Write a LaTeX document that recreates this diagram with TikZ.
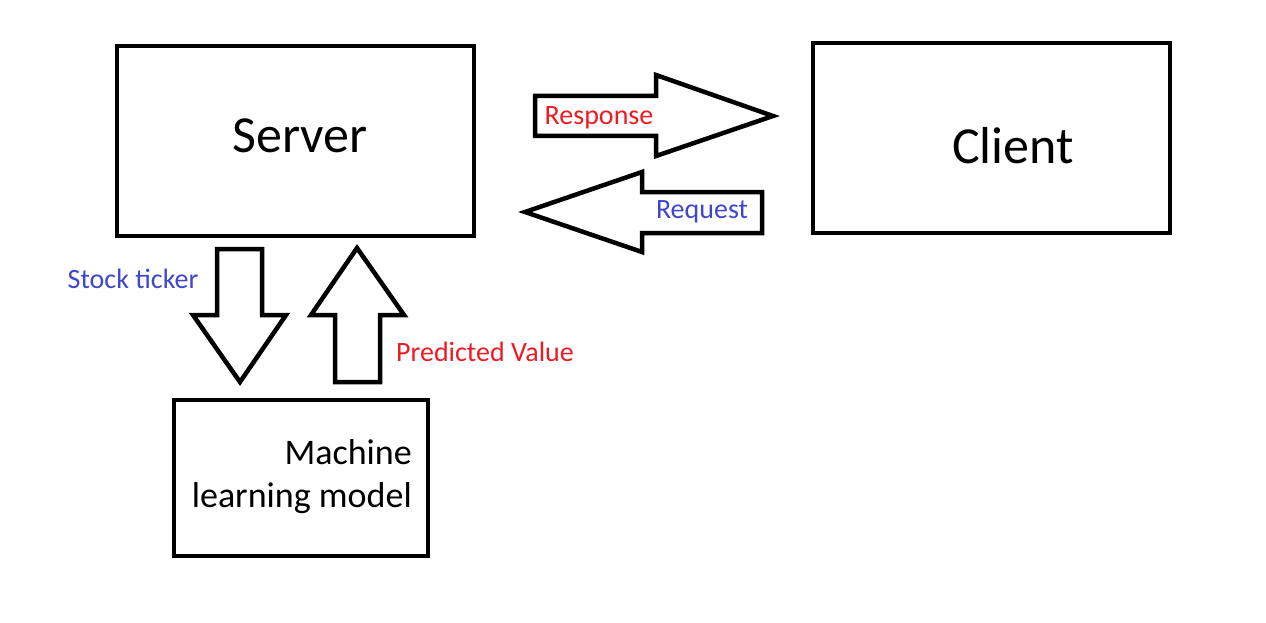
\documentclass[tikz,border=0pt]{standalone}
\usepackage{fontspec}
\setmainfont{Carlito}
\definecolor{pred}{RGB}{237,28,36}
\definecolor{pblue}{RGB}{63,72,204}
\begin{document}
\begin{tikzpicture}[x=1pt,y=-1pt,
  box/.style={draw=black,line width=4pt,inner sep=0pt,fill=white},
  blockarrow/.style={draw=black,line width=4.5pt,line join=miter,fill=white},
  lbl/.style={inner sep=0pt,anchor=center},
  big/.style={lbl,font=\fontsize{52}{60}\selectfont},
  small/.style={lbl,font=\fontsize{28}{32}\selectfont}]
\useasboundingbox[fill=white] (0,0) rectangle (1266,623);
% boxes
\draw[box] (117,46) rectangle (474,236);
\node[big] (server) at (300,136) {Server};
\draw[box] (813,43) rectangle (1170,233);
\node[big] (client) at (1013,146) {Client};
\draw[box] (174,400) rectangle (428,556);
\node[inner sep=0pt,anchor=base east,font=\fontsize{36}{44}\selectfont] (ml1) at (412,464) {Machine};
\node[inner sep=0pt,anchor=base east,font=\fontsize{36}{44}\selectfont] (ml2) at (412,507) {learning model};
% response arrow
\draw[blockarrow] (535,96) -- (656,96) -- (656,75) -- (773,116) -- (656,156) -- (656,136) -- (535,136) -- cycle;
\node[small,text=pred] (resp) at (599,118) {Response};
% request arrow
\draw[blockarrow] (762,192) -- (642,192) -- (642,172) -- (525,212) -- (642,252) -- (642,233) -- (762,233) -- cycle;
\node[small,text=pblue] (req) at (702,212) {Request};
% down arrow
\draw[blockarrow] (217,249) -- (262,249) -- (262,315) -- (286,315) -- (240,382) -- (193,315) -- (217,315) -- cycle;
\node[small,text=pblue] (stock) at (133,279) {Stock ticker};
% up arrow
\draw[blockarrow] (335,382) -- (380,382) -- (380,315) -- (404,315) -- (357,248) -- (311,315) -- (335,315) -- cycle;
\node[small,text=pred] (pv) at (485,352) {Predicted Value};
\end{tikzpicture}
\end{document}
